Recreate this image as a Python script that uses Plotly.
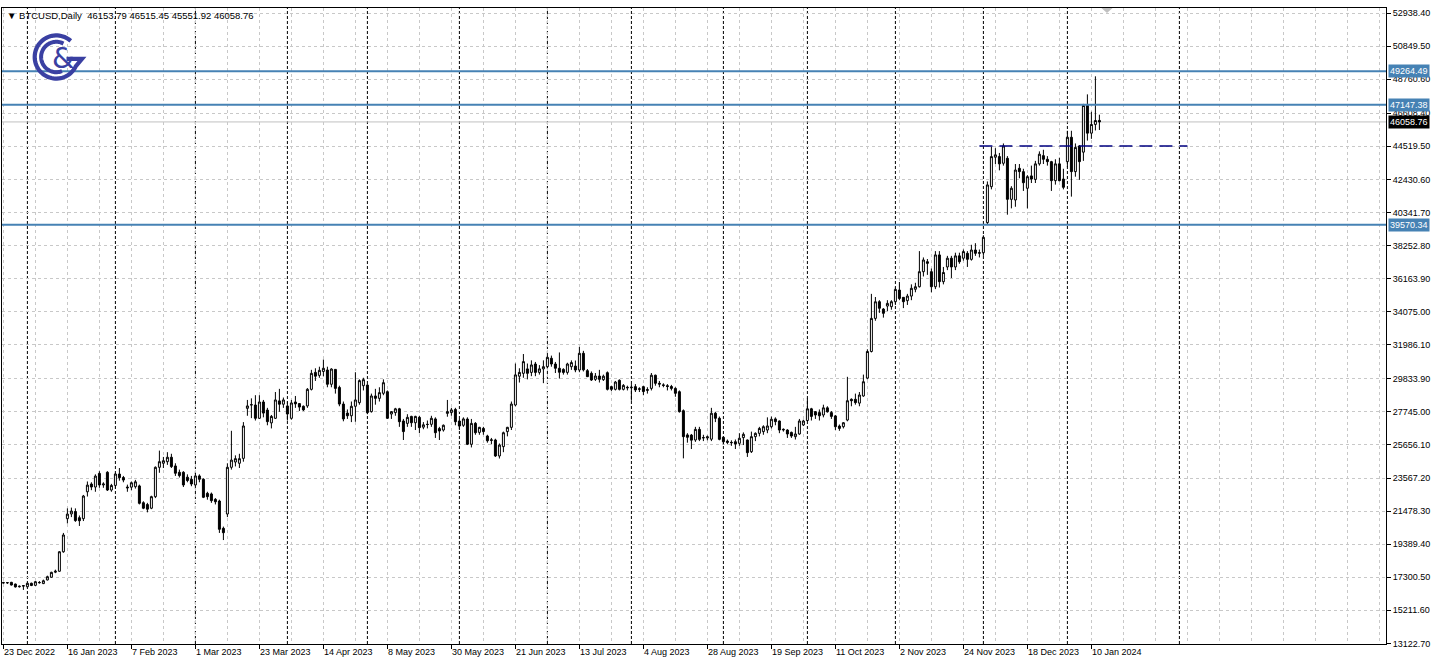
import numpy as np
import pandas as pd
import plotly.graph_objects as go

# ---------------- data (daily bars, weekdays) ----------------
opens = [16960,16950,16980,16870,16700,16740,16700,16920,16790,16970,16900,17130,17300,17620,17680,18910,
21000,21300,21450,21060,21000,22700,23190,23000,23860,23130,23930,22810,23100,23820,23600,23000,
22990,23020,23070,22010,21890,21660,22390,24245,24500,24600,24880,24330,23930,23930,23620,23490,
23130,23700,23490,22600,22560,22220,22117,20390,21295,24245,24580,24500,24810,27970,28180,28180,
27340,28370,27860,27050,27340,28440,28230,28120,27340,28370,28270,28100,28120,29170,30240,30050,
30300,30390,29490,30430,29290,28240,27670,27500,28100,28330,29400,29440,27760,28750,28600,28920,
29020,27610,27700,27940,27170,27020,27460,27060,27400,26780,26960,26960,27300,26690,26600,27650,
27700,27900,27170,26900,27290,25700,27020,26450,26700,26220,25980,25970,24960,25550,26500,26770,
28180,30000,30180,30460,30240,30770,30240,30460,30600,31130,30770,30500,30430,30240,30600,30640,
30390,31445,30350,30180,29800,30010,29780,30220,29340,29170,29740,29170,29300,29270,29340,29170,
29340,29100,29230,30060,29550,29450,29400,29350,29230,29020,27820,26290,26280,25970,26640,26100,
26100,26020,27660,27340,26140,25900,25820,25860,25760,26120,25970,25230,26180,26390,26500,26600,
26810,27300,27170,26600,26600,26450,26180,26350,26920,27200,27940,27760,27700,27550,28000,27700,
27490,26850,26810,27230,28540,28540,28300,28750,29880,31560,33650,34705,34240,34430,34390,34705,
35440,34980,34770,35060,35490,35650,36600,37230,36600,35650,37660,35970,36900,37450,36900,37600,
37450,37760,37380,37970,37760,37800,39700,41970,43830,43870,43450,43760,41170,41130,43130,42920,
41870,42650,42430,43410,43930,43700,43550,42350,43410,42450,43550,45090,42920,44540,44150,47110,
45350,45900,46153.79]
highs = [17010,16990,17010,16900,16780,16790,16960,16960,17060,17060,17150,17400,17650,17780,18950,20100,
21650,21700,21650,21200,22500,23350,23300,23800,24000,23300,24000,23200,23900,24200,23700,23150,
23350,23450,23150,22100,22000,22450,24300,25300,24900,25200,25100,24500,24100,24000,23800,23700,
23900,23800,23550,22700,22650,22300,22200,20500,24500,26550,25000,25100,27100,28500,28600,28800,
28800,28500,28000,27550,29000,29200,28650,28400,28500,28750,28300,28150,29250,30400,30500,30600,
31050,30600,30500,30450,29400,28400,27900,28400,30250,29800,29900,29500,28900,29200,29300,29800,
29100,27800,28000,28000,27300,27600,27500,27500,27500,27100,27200,27500,27400,26800,26950,28500,
28000,28000,27300,27400,27400,27300,27100,26800,26800,26300,26100,26050,25750,26500,26800,28400,
30800,30500,31400,30800,31000,30900,30700,31000,31400,31300,30900,31500,30500,30850,31000,30990,
31850,31600,30450,30300,30200,30400,30100,30300,29400,29700,29800,29500,29400,29500,29500,29300,
29400,29300,30200,30100,29700,29550,29500,29450,29300,29100,27900,26400,26350,26800,26800,26300,
26250,28000,27750,27450,26200,26000,25950,26000,26400,26450,26000,26500,26450,26800,26900,27400,
27450,27400,27200,26700,26650,26500,26800,27300,27250,28600,28000,27800,27900,28200,28100,27800,
27550,26950,27100,29960,28600,28900,29000,30100,31700,35200,35000,34800,34300,34800,34800,35600,
35950,35000,35200,35800,35900,37900,37500,37400,36800,37900,37900,36900,37600,37600,37800,37800,
38000,37900,38300,38400,38000,38900,42300,44500,44400,44100,44700,43900,42000,43400,43400,43100,
42700,43300,43600,44200,44300,43900,43600,43700,43800,43100,45500,45500,44700,44600,47200,47800,
46700,48940,46515.45]
lows = [16900,16880,16780,16650,16650,16500,16680,16740,16760,16900,16870,17100,17280,17560,17650,18850,
20700,21100,20800,20540,20850,22400,22800,22700,22950,22950,22750,22700,22900,23400,23300,22700,
22800,22900,21900,21600,21400,21600,22300,23900,24200,24400,24200,23700,23600,23000,23300,23050,
23050,23300,22300,22200,22000,21900,20100,19650,21100,24100,24300,24200,24600,27500,27350,27200,
27300,27400,26900,26700,27300,27750,28000,27200,27250,28000,27800,27800,28000,29100,29700,29900,
30000,29300,29300,28900,28100,27150,27300,27100,27120,28200,29100,27600,27700,28200,28400,28800,
27300,27300,27500,26800,25970,26800,26800,26600,26400,26650,26700,26800,26100,25970,26500,27440,
27500,26900,26600,26800,25650,25500,26300,26300,26300,25800,25700,24900,24800,25200,26200,26600,
28100,29600,29900,29800,30000,30000,30100,29560,30500,30600,30200,29850,30100,30100,30400,30250,
30250,30300,29950,29700,29700,29600,29700,29100,29050,29100,29100,29100,29100,28450,29000,29000,
28800,28900,29100,29400,29300,29300,29100,29100,28700,27700,24810,25800,25400,25850,25900,25900,
25950,25900,27100,25950,25700,25700,25600,25400,25600,25650,24900,25150,25900,26200,26300,26400,
26700,26900,26400,26500,26100,26100,26000,26300,26850,27150,27200,27300,27200,27400,27700,27300,
26600,26550,26700,27150,28100,28200,28100,28700,29800,31500,33500,34000,33700,34100,34200,34500,
34800,34300,34500,34800,35300,35600,36300,36400,35300,35500,35600,35800,36700,36200,36700,37100,
37300,36900,37300,37600,37500,37600,39600,41800,43400,43000,43300,40200,40600,40700,42500,41700,
40600,42200,42200,43300,43400,43300,41700,42100,42300,41800,43200,41340,42600,42400,43600,44880,
44990,45520,45551.92]
closes = [16950,16960,16810,16690,16730,16770,16920,16780,17020,16960,17080,17335,17610,17680,18910,19970,
21290,21480,20880,20870,22430,23120,23000,23690,23130,23190,22810,23100,23820,23590,23440,22950,
23270,23330,21970,21660,21600,22390,24245,24600,24660,24880,24290,23870,23720,23130,23410,23190,
23700,23490,22350,22390,22140,22070,20330,20115,24245,24700,24790,24790,26855,28120,28200,27340,
28370,27670,27130,27460,28500,28230,28500,27610,28310,28250,28050,27870,29170,30180,30000,30370,
30500,29490,30450,29230,28240,27300,27500,28100,28500,29720,29780,27700,28750,28600,28960,29590,
27340,27760,27940,27125,26500,27400,27060,27460,26750,26930,26950,27340,26430,26540,26900,27760,
27870,27125,26850,27300,25700,27020,26430,26770,26500,25920,25950,24960,25650,26430,26770,28240,
30080,30240,30920,30180,30710,30240,30460,30600,31190,30770,30500,30250,30240,30770,30860,30390,
31445,30400,29970,29760,30010,29800,30000,29170,29170,29630,29170,29420,29270,29300,29130,29200,
29030,29150,30060,29550,29500,29420,29350,29230,28920,27760,26180,26140,25960,26640,26010,26120,
26170,27660,27340,26010,25860,25820,25800,25720,26080,26330,25170,26180,26390,26700,26810,26855,
27280,27130,26600,26640,26350,26220,26350,27170,27170,27940,27460,27550,27500,28000,27750,27460,
26810,26700,27060,28450,28450,28330,28810,29650,31560,33650,34700,34290,33970,34600,34705,35480,
34910,34705,35060,35550,35650,36600,37340,37130,35650,37660,35970,36550,37450,36900,37600,37230,
37870,37380,37970,37760,37800,38770,42080,43870,43980,43410,44540,41170,41870,43020,42920,42220,
42600,42450,43410,44020,43700,43550,42350,43410,42350,41930,45090,42920,44450,43550,47100,45350,
45900,46150,46058.76]

symbol = "BTCUSD"
timeframe = "Daily"
level_lines = [49264.49, 47147.38, 39570.34]
dashed_level = 44540.0
dashed_from, dashed_to = 244, 296
y_ticks = [52938.40, 50849.50, 48760.60, 46608.40, 44519.50, 42430.60, 40341.70, 38252.80,
           36163.90, 34075.00, 31986.10, 29833.90, 27745.00, 25656.10, 23567.20, 21478.30,
           19389.40, 17300.50, 15211.60, 13122.70]

bdays = pd.bdate_range("2022-12-23", "2024-01-12")
dates = [d for d in bdays if d != pd.Timestamp("2024-01-01")]
n = len(dates)
xi = list(range(n))

# ---------------- geometry ----------------
W, H = 1438, 671
ML, MR, MT, MB = 2, 52, 8, 27
PW, PH = W - ML - MR, H - MT - MB
BAR_PX = 4.0
x_lo = -0.35
x_hi = x_lo + PW / BAR_PX
y_lo, y_hi = 13084.8, 53254.8

def px(x):
    return (x - ML) / PW

def py(y):
    return 1 - (y - MT) / PH

fig = go.Figure()
fig.add_trace(go.Candlestick(
    x=xi, open=opens, high=highs, low=lows, close=closes,
    increasing=dict(line=dict(color="black", width=1), fillcolor="white"),
    decreasing=dict(line=dict(color="black", width=1), fillcolor="black"),
    whiskerwidth=0, hoverinfo="skip", showlegend=False))

shapes = []
# month separators
sep_idx = [i for i in range(1, n) if dates[i].month != dates[i - 1].month]
sep_idx.append(n - 1 + (pd.Timestamp("2024-02-01") - dates[-1]).days)
for i in sep_idx:
    shapes.append(dict(type="line", xref="x", yref="paper", x0=i, x1=i, y0=0, y1=1,
                       line=dict(color="black", width=1, dash="3px,2px"), layer="below"))
# horizontal levels
for v in level_lines:
    shapes.append(dict(type="line", xref="paper", yref="y", x0=0, x1=1, y0=v, y1=v,
                       line=dict(color="#4682B4", width=2)))
# bid line
shapes.append(dict(type="line", xref="paper", yref="y", x0=0, x1=1, y0=closes[-1], y1=closes[-1],
                   line=dict(color="#c0c0c0", width=1), layer="below"))
# dashed level
shapes.append(dict(type="line", xref="x", yref="y", x0=dashed_from, x1=dashed_to,
                   y0=dashed_level, y1=dashed_level,
                   line=dict(color="#000080", width=1.3, dash="13px,7px")))
# shift marker triangle
tx = 275.9
shapes.append(dict(type="path", xref="x", yref="paper",
                   path=f"M {tx-1.4},1 L {tx+1.4},1 L {tx},{1-5/PH} Z",
                   fillcolor="#c0c0c0", line=dict(width=0)))

# logo
LC = "#3a40a2"
cx, cy = 56.3, 57.0
def arc(r, a0, a1, steps=60):
    pts = []
    for a in np.linspace(np.radians(a0), np.radians(a1), steps):
        pts.append((px(cx + r * np.cos(a)), py(cy - r * np.sin(a))))
    return pts
outer = arc(21.6, 48, 335)
outer.append((px(82.0), py(58.8)))
outer.append((px(66.5), py(58.8)))
p = "M " + " L ".join(f"{a:.5f},{b:.5f}" for a, b in outer)
shapes.append(dict(type="path", xref="paper", yref="paper", path=p,
                   line=dict(color=LC, width=4.2)))
inner = arc(15.2, 62, 292)
p2 = "M " + " L ".join(f"{a:.5f},{b:.5f}" for a, b in inner)
shapes.append(dict(type="path", xref="paper", yref="paper", path=p2,
                   line=dict(color=LC, width=4)))

annotations = []
annotations.append(dict(text="&", x=px(63), y=py(58), xref="paper", yref="paper",
                        xanchor="center", yanchor="middle", showarrow=False,
                        font=dict(family="DejaVu Sans", size=29, color=LC)))

FONT = "Liberation Sans"
# header
hdr = (f"▼ {symbol},{timeframe}\u00a0\u00a0{opens[-1]:.2f} {highs[-1]:.2f} "
       f"{lows[-1]:.2f} {closes[-1]:.2f}")
annotations.append(dict(text=hdr, x=px(5), y=py(16), xref="paper", yref="paper",
                        xanchor="left", yanchor="middle", showarrow=False,
                        font=dict(family=FONT, size=9.5, color="black")))

# x labels
label_idx = list(range(0, n, 16))
for i in label_idx:
    d = dates[i]
    annotations.append(dict(text=f"{d.day} {d.strftime('%b %Y')}", x=i, xref="x",
                            y=0, yref="paper", xanchor="left", yanchor="top",
                            xshift=-1, yshift=-1, showarrow=False,
                            font=dict(family=FONT, size=9, color="black")))

# price boxes
for v in level_lines:
    annotations.append(dict(text=f"{v:.2f}", x=1, xref="paper", y=v, yref="y",
                            xanchor="left", yanchor="middle", xshift=2, showarrow=False,
                            bgcolor="#4682B4", borderpad=1,
                            font=dict(family=FONT, size=9, color="white")))
annotations.append(dict(text=f"{closes[-1]:.2f}", x=1, xref="paper", y=closes[-1], yref="y",
                        xanchor="left", yanchor="middle", xshift=2, showarrow=False,
                        bgcolor="black", borderpad=1,
                        font=dict(family=FONT, size=9, color="white")))

fig.update_layout(
    width=W, height=H,
    margin=dict(l=ML, r=MR, t=MT, b=MB, pad=0),
    paper_bgcolor="white", plot_bgcolor="white",
    showlegend=False,
    shapes=shapes, annotations=annotations,
    xaxis=dict(range=[x_lo, x_hi], tickmode="array", tickvals=label_idx,
               ticktext=[""] * len(label_idx), ticks="outside", ticklen=4,
               tickcolor="black", showgrid=True, gridcolor="#c8c8c8", griddash="3px,3px",
               gridwidth=1,
               minor=dict(tickmode="linear", tick0=0, dtick=8, showgrid=True,
                          gridcolor="#c8c8c8", griddash="3px,3px", ticks=""),
               showline=True, linecolor="black", linewidth=1, mirror=True,
               zeroline=False, rangeslider=dict(visible=False), fixedrange=True),
    yaxis=dict(range=[y_lo, y_hi], side="right", tickmode="array", tickvals=y_ticks,
               ticktext=[f"{v:.2f}" for v in y_ticks], ticks="outside", ticklen=4,
               tickcolor="black", showgrid=True, gridcolor="#c8c8c8", griddash="3px,3px",
               showline=True, linecolor="black", linewidth=1, mirror=True,
               zeroline=False, fixedrange=True,
               tickfont=dict(family=FONT, size=9, color="black")),
)

fig.write_html("out.html", config={"displayModeBar": False},
               post_script="document.body.style.margin='0';document.body.style.padding='0';")
